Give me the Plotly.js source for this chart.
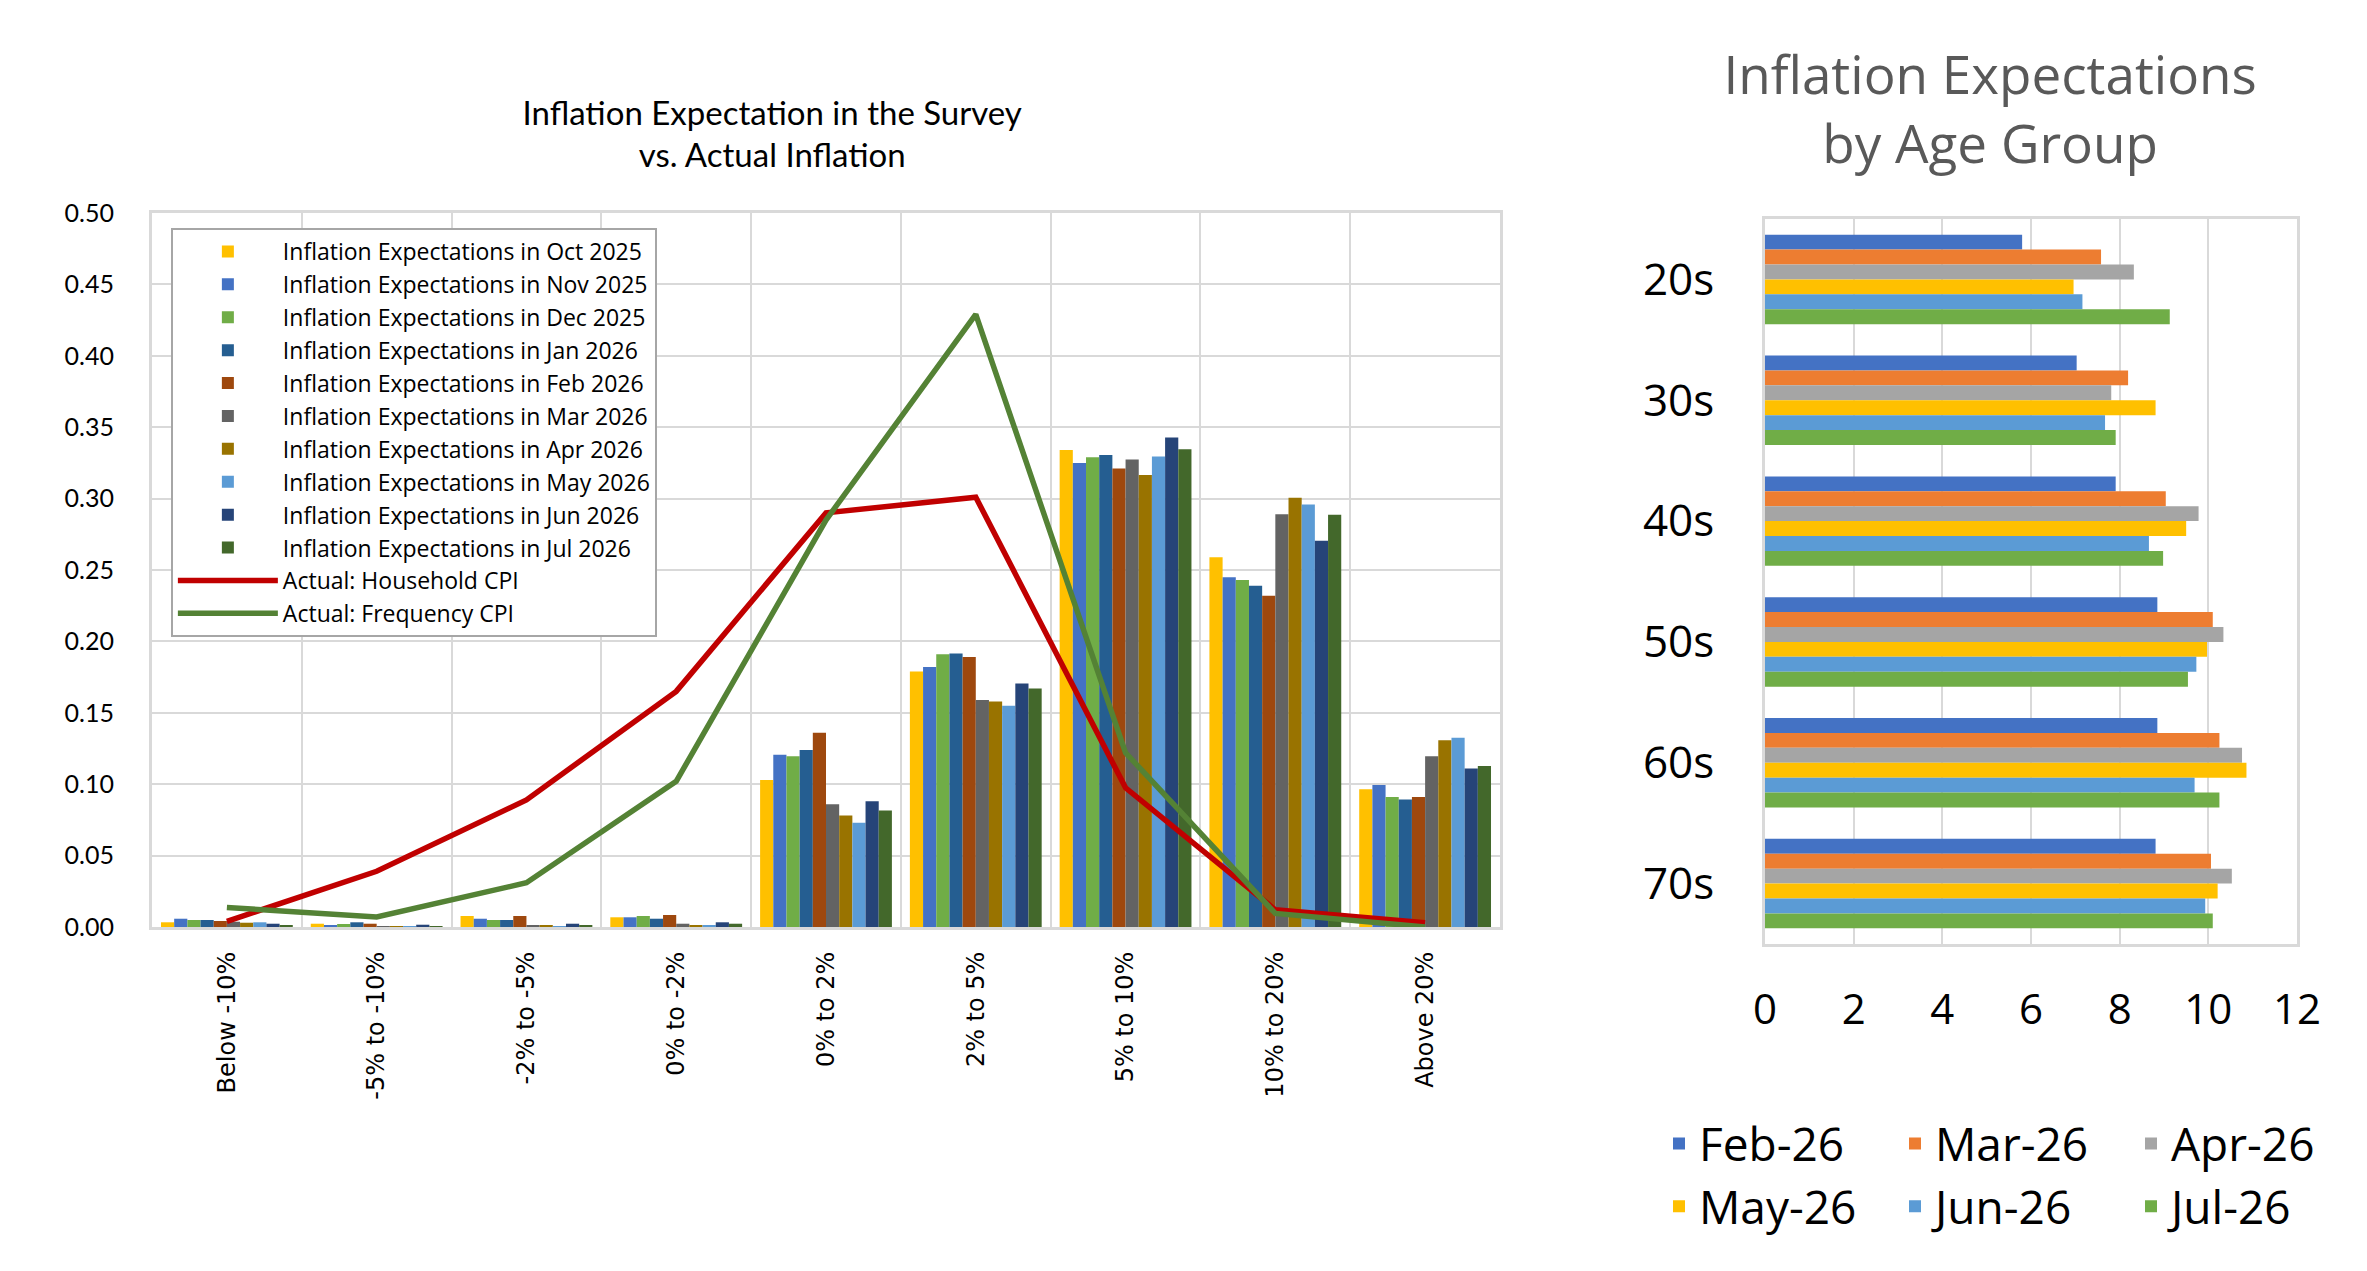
<!DOCTYPE html>
<html>
<head>
<meta charset="utf-8">
<script src="https://cdn.plot.ly/plotly-3.0.1.min.js"></script>
<style>
body{margin:0;background:#fff;width:2367px;height:1271px;overflow:hidden;position:relative;}
#left{position:absolute;left:0;top:0;width:1560px;height:1271px;}
#right{position:absolute;left:1560px;top:0;width:807px;height:1271px;}
</style>
</head>
<body>
<div id="left"></div>
<div id="right"></div>
<script>
// left chart data: share of answers per expectation bucket
var categories=['Below -10%','-5% to -10%','-2% to -5%','0% to -2%','0% to 2%','2% to 5%','5% to 10%','10% to 20%','Above 20%'];
var oct25=[0.0033,0.0023,0.0077,0.0068,0.103,0.179,0.334,0.259,0.0965];
var nov25=[0.0058,0.0014,0.0058,0.0068,0.1206,0.182,0.325,0.245,0.0995];
var dec25=[0.0049,0.0021,0.0049,0.0077,0.1196,0.191,0.329,0.243,0.091];
var jan26=[0.0049,0.0033,0.0049,0.0058,0.124,0.1916,0.3305,0.239,0.0893];
var feb26=[0.0042,0.0023,0.0077,0.0084,0.136,0.189,0.321,0.232,0.091];
var mar26=[0.0037,0.0007,0.0014,0.0023,0.086,0.159,0.3274,0.289,0.1196];
var apr26=[0.003,0.0007,0.0014,0.0014,0.078,0.158,0.3166,0.3006,0.1308];
var may26=[0.0033,0.0007,0.0007,0.0014,0.073,0.155,0.3295,0.2959,0.1325];
var jun26=[0.0023,0.0016,0.0023,0.0033,0.088,0.1705,0.3427,0.2704,0.111];
var jul26=[0.0014,0.0007,0.0014,0.0023,0.0815,0.167,0.3346,0.2887,0.1128];
var household=[0.004,0.039,0.089,0.165,0.290,0.301,0.0975,0.012,0.003];
var frequency=[0.0137,0.007,0.031,0.102,0.285,0.429,0.122,0.0095,0.0];
var monthNames=['Oct 2025','Nov 2025','Dec 2025','Jan 2026','Feb 2026','Mar 2026','Apr 2026','May 2026','Jun 2026','Jul 2026'];

// right chart data
var ageGroups=['20s','30s','40s','50s','60s','70s'];
var ageFeb=[5.80,7.03,7.91,8.85,8.85,8.81];
var ageMar=[7.58,8.19,9.04,10.10,10.25,10.06];
var ageApr=[8.32,7.81,9.78,10.34,10.76,10.53];
var ageMay=[6.96,8.81,9.50,9.97,10.86,10.21];
var ageJun=[7.16,7.67,8.66,9.73,9.69,9.93];
var ageJul=[9.13,7.91,8.98,9.54,10.25,10.10];
var ageNames=['Feb-26','Mar-26','Apr-26','May-26','Jun-26','Jul-26'];

var gridCol='#D9D9D9';

function leftChart(){
    var series=[oct25,nov25,dec25,jan26,feb26,mar26,apr26,may26,jun26,jul26];
    var colors=['#FFC000','#4472C4','#70AD47','#255E91','#9E480E','#636363','#997300','#5B9BD5','#264478','#43682B'];
    var data=[];
    for(var i=0;i<series.length;i++){
        data.push({
            type:'bar',
            x:categories,
            y:series[i],
            name:'Inflation Expectations in '+monthNames[i],
            marker:{color:colors[i]}
        });
    }
    data.push({type:'scatter',mode:'lines',x:categories,y:household,name:'Actual: Household CPI',line:{color:'#C00000',width:5.5}});
    data.push({type:'scatter',mode:'lines',x:categories,y:frequency,name:'Actual: Frequency CPI',line:{color:'#548235',width:5.5}});

    var layout={
        width:1560,height:1271,
        paper_bgcolor:'#fff',plot_bgcolor:'#fff',
        font:{family:'Lato, sans-serif',color:'#000'},
        margin:{l:152,r:60,t:213,b:344},
        title:{
            text:'Inflation Expectation in the Survey<br>vs. Actual Inflation',
            font:{size:33,color:'#000'},
            xref:'container',x:0.495,xanchor:'center',
            yref:'container',y:0.902,yanchor:'middle'
        },
        barmode:'group',bargap:0.12,bargroupgap:0,
        showlegend:true,
        legend:{
            x:0.014,y:0.979,xanchor:'left',yanchor:'top',
            bgcolor:'#fff',bordercolor:'#A6A6A6',borderwidth:2,
            font:{family:'Open Sans',size:23,color:'#000'},
            itemwidth:100,tracegroupgap:0
        },
        xaxis:{
            type:'category',tickson:'boundaries',
            showgrid:true,gridcolor:gridCol,gridwidth:2,
            showline:true,mirror:true,linecolor:gridCol,linewidth:3,
            ticks:'',tickangle:-90,ticklabelstandoff:12,
            tickfont:{family:'DejaVu Sans',size:24,color:'#000'}
        },
        yaxis:{
            range:[0,0.5],dtick:0.05,tickformat:'.2f',
            showgrid:true,gridcolor:gridCol,gridwidth:2,zeroline:false,
            showline:true,mirror:true,linecolor:gridCol,linewidth:3,
            ticks:'',ticklabelstandoff:30,
            tickfont:{size:25,color:'#000'}
        }
    };
    Plotly.newPlot('left',data,layout,{staticPlot:true});
}

function rightChart(){
    var series=[ageFeb,ageMar,ageApr,ageMay,ageJun,ageJul];
    var colors=['#4472C4','#ED7D31','#A5A5A5','#FFC000','#5B9BD5','#70AD47'];
    var data=[];
    for(var i=0;i<series.length;i++){
        data.push({
            type:'bar',orientation:'h',
            y:ageGroups,
            x:series[i],
            name:ageNames[i],
            marker:{color:colors[i]}
        });
    }
    var layout={
        width:807,height:1271,
        paper_bgcolor:'#fff',plot_bgcolor:'#fff',
        font:{family:'Open Sans, sans-serif',color:'#000'},
        margin:{l:205,r:70,t:219,b:327},
        title:{
            text:'Inflation Expectations<br>by Age Group',
            font:{size:53,color:'#595959'},
            xref:'container',x:0.533,xanchor:'center',
            yref:'container',y:0.926,yanchor:'middle'
        },
        barmode:'group',bargap:0.26,bargroupgap:0,
        showlegend:true,
        legend:{
            orientation:'h',
            x:-0.175,y:-0.225,xanchor:'left',yanchor:'top',
            font:{size:46,color:'#000'},
            entrywidth:191,entrywidthmode:'pixels',
            traceorder:'normal'
        },
        xaxis:{
            range:[0,12],dtick:2,
            showgrid:true,gridcolor:gridCol,gridwidth:2,zeroline:false,
            showline:true,mirror:true,linecolor:gridCol,linewidth:3,
            ticks:'',ticklabelstandoff:27,
            tickfont:{size:42,color:'#000'}
        },
        yaxis:{
            type:'category',autorange:'reversed',
            showgrid:false,
            showline:true,mirror:true,linecolor:gridCol,linewidth:3,
            ticks:'',ticklabelstandoff:39,
            tickfont:{size:44,color:'#000'}
        }
    };
    Plotly.newPlot('right',data,layout,{staticPlot:true});
}

leftChart();
rightChart();
</script>
</body>
</html>
